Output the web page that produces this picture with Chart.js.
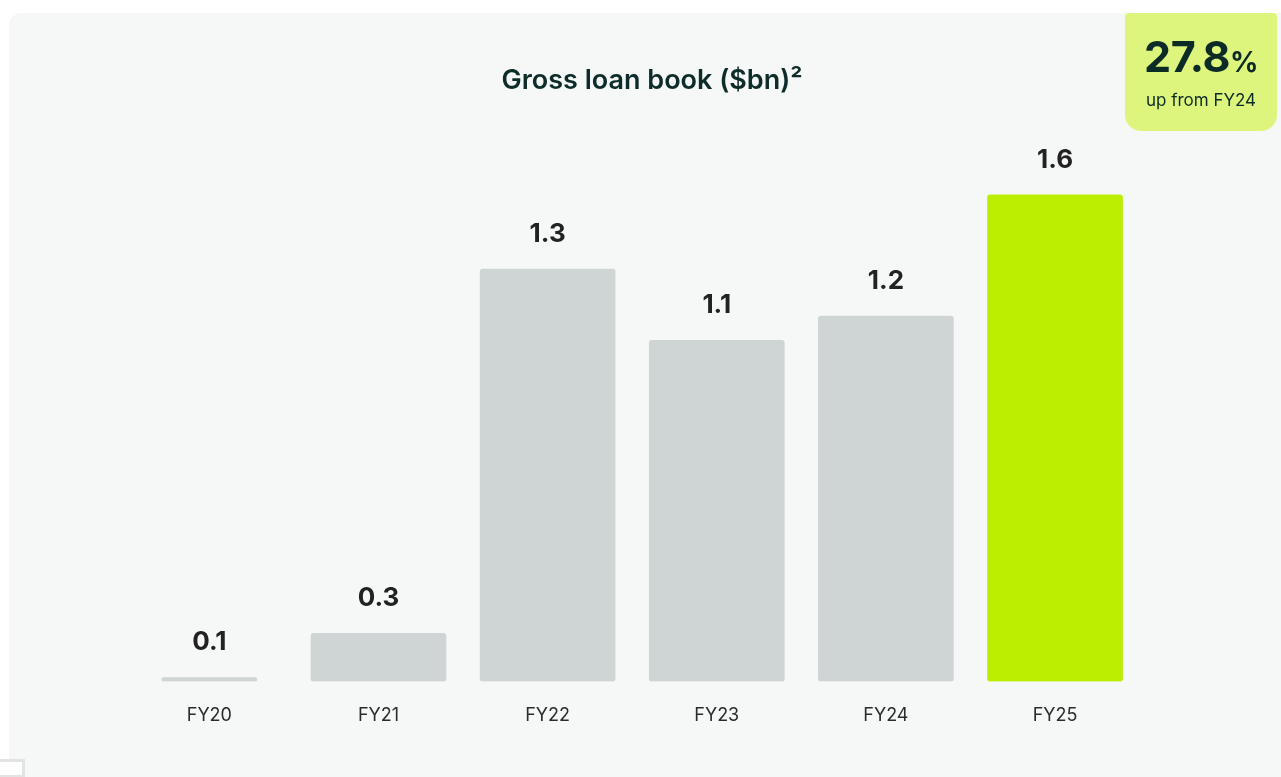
<!DOCTYPE html>
<html>
<head>
<meta charset="utf-8">
<script src="https://cdn.jsdelivr.net/npm/chart.js@4.4.1/dist/chart.umd.min.js"></script>
<style>
  html, body { margin: 0; padding: 0; background: #ffffff; overflow: hidden; }
  #wrap { position: relative; width: 1281px; height: 777px; overflow: hidden; }
  #panel { position: absolute; left: 9px; top: 13px; width: 1320px; height: 820px; background: #f6f8f7; border-radius: 12px; }
  #chartBox { position: absolute; left: 0; top: 0; width: 1281px; height: 777px; }
  #badge { position: absolute; left: 1125px; top: 13px; width: 152px; height: 118px; background: #ddf57c;
           border-radius: 4px 4px 16px 16px; font-family: Inter, "Noto Sans", sans-serif; color: #0c2a26; text-align: center; }
  #badge .big { position: absolute; left: 0; right: 0; top: 15px; font-size: 43px; font-weight: 700; letter-spacing: -0.5px; line-height: 56px; }
  #badge .big span { font-size: 28px; font-weight: 700; }
  #badge .small { position: absolute; left: 0; right: 0; top: 76px; font-size: 17px; font-weight: 400; line-height: 22px; }
  #corner { position: absolute; left: -3px; top: 759px; width: 22px; height: 13px; border: 3px solid #e2e4e3; background: #ffffff; }
</style>
</head>
<body>
<div id="wrap">
  <div id="panel"></div>
  <div id="corner"></div>
  <div id="chartBox"><canvas id="c"></canvas></div>
  <div id="badge"><div class="big">27.8<span>%</span></div><div class="small">up from FY24</div></div>
</div>
<script>
const categories = ["FY20", "FY21", "FY22", "FY23", "FY24", "FY25"];
const values = [0.013, 0.159, 1.362, 1.127, 1.207, 1.607];
const valueLabels = ["0.1", "0.3", "1.3", "1.1", "1.2", "1.6"];
const barColors = ["#cfd5d4", "#cfd5d4", "#cfd5d4", "#cfd5d4", "#cfd5d4", "#bbee00"];
const chartTitle = "Gross loan book ($bn)\u00B2";

const firstOnly = values.map((v, i) => i === 0 ? v : null);
const restOnly = values.map((v, i) => i === 0 ? null : v);

const labelPlugin = {
  id: 'valueLabels',
  afterDatasetsDraw(chart) {
    const ctx = chart.ctx;
    ctx.save();
    ctx.font = '700 26px Inter, "Noto Sans", sans-serif';
    ctx.fillStyle = '#222222';
    ctx.textAlign = 'center';
    ctx.textBaseline = 'middle';
    chart.data.datasets.forEach((ds, di) => {
      const meta = chart.getDatasetMeta(di);
      meta.data.forEach((bar, i) => {
        if (ds.data[i] === null || ds.data[i] === undefined) return;
        ctx.fillText(valueLabels[i], bar.x, bar.y - 35);
      });
    });
    ctx.restore();
  }
};

new Chart(document.getElementById('c'), {
  type: 'bar',
  data: {
    labels: categories,
    datasets: [
      { data: firstOnly, backgroundColor: barColors, barThickness: 95, grouped: false, borderRadius: 3, borderSkipped: false },
      { data: restOnly, backgroundColor: barColors, barThickness: 135, grouped: false, borderRadius: 3, borderSkipped: false }
    ]
  },
  options: {
    responsive: true,
    maintainAspectRatio: false,
    animation: false,
    layout: { padding: { left: 23, right: 0, top: 0, bottom: 28 } },
    plugins: {
      legend: { display: false },
      tooltip: { enabled: false },
      title: {
        display: true,
        text: chartTitle,
        color: '#0e2c2a',
        font: { family: 'Inter, "Noto Sans", sans-serif', size: 27, weight: '600', lineHeight: 1.2 },
        padding: { top: 64.8, bottom: 39.3 }
      }
    },
    scales: {
      x: {
        grid: { display: false, drawTicks: false },
        border: { display: false },
        ticks: { color: '#2b2b2b', padding: 23, autoSkip: false, maxRotation: 0,
                 font: { family: 'Inter, "Noto Sans", sans-serif', size: 18, weight: '400', lineHeight: 1.2 } }
      },
      y: {
        min: 0, max: 1.8,
        position: 'left',
        grid: { display: false, drawTicks: false },
        border: { display: false },
        ticks: { display: false },
        afterFit(s) { s.width = 101.8; }
      },
      y2: {
        type: 'linear',
        min: 0, max: 1.8,
        position: 'right',
        grid: { display: false, drawTicks: false },
        border: { display: false },
        ticks: { display: false },
        afterFit(s) { s.width = 141.4; }
      }
    }
  },
  plugins: [labelPlugin]
});
</script>
</body>
</html>
